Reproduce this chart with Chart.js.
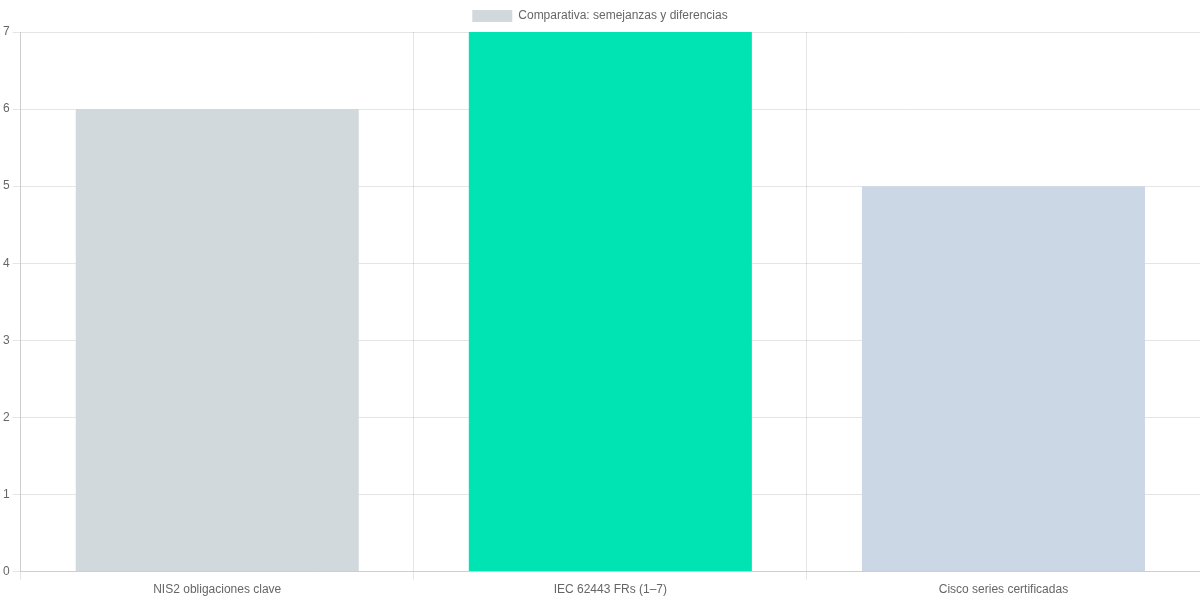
<!DOCTYPE html>
<html>
<head>
<meta charset="utf-8">
<script src="https://cdn.jsdelivr.net/npm/chart.js@4"></script>
<style>
  html, body { margin: 0; padding: 0; background: #fff; }
  #wrap { width: 1200px; height: 600px; }
</style>
</head>
<body>
<div id="wrap"><canvas id="barChart"></canvas></div>
<script>
// ===== Data =====
const categories = ['NIS2 obligaciones clave', 'IEC 62443 FRs (1–7)', 'Cisco series certificadas'];
const seriesValues = [6, 7, 5];
const barColors = ['#d1d9dc', '#00e3b2', '#cbd7e5'];

// ===== Chart =====
const ctx = document.getElementById('barChart').getContext('2d');
new Chart(ctx, {
    type: 'bar',
    data: {
        labels: categories,
        datasets: [{
            label: 'Comparativa: semejanzas y diferencias',
            data: seriesValues,
            backgroundColor: barColors,
            borderWidth: 0
        }]
    },
    options: {
        responsive: true,
        maintainAspectRatio: false,
        animation: false,
        plugins: {
            legend: { position: 'top' }
        },
        scales: {
            y: { beginAtZero: true, max: 7, ticks: { stepSize: 1 } }
        }
    }
});
</script>
</body>
</html>
